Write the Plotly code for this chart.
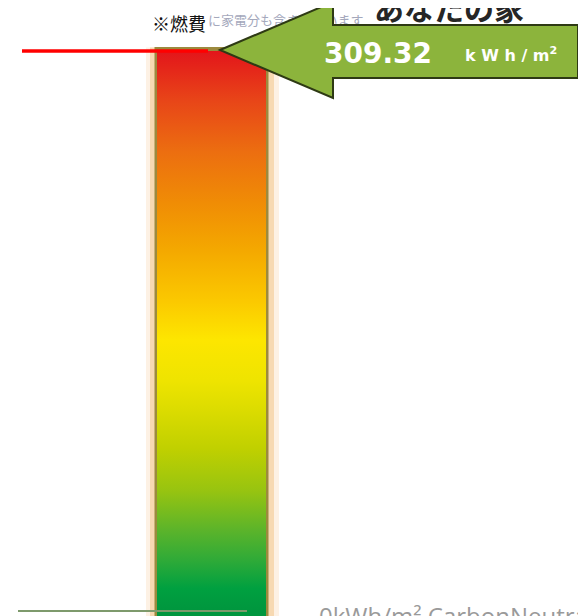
import plotly.graph_objects as go

# ---- data ----
value = [309.32]
value_text = ["309.32"]
unit_text = "k W h / m<sup>2</sup>"
bottom_label = "0kWh/m² CarbonNeutral"
heading = "あなたの家"
note_black = "※燃費"
note_grey = "に家電分も含まれています"
gradient_stops = [0.0, 0.04, 0.09, 0.145, 0.216, 0.29, 0.36, 0.41, 0.484,
                  0.555, 0.645, 0.73, 0.82, 0.91, 1.0]
gradient_colors = ["#00963e", "#00a040", "#2eaa38", "#5cb42a", "#98c410",
                   "#c0d000", "#dcdc00", "#eee400", "#fde600", "#fbc800",
                   "#f4a800", "#f08c05", "#ec6e10", "#e84618", "#e3151b"]

# page body adds an 8px margin -> figure placed at (8, 8) in the window
OFF = 8
W, H = 586 - OFF, 616 - OFF
K = 560 / value[0]           # px per unit
Y0 = 611                      # screen pixel of value 0


def vy(sy):
    return (Y0 - sy) / K


def pp(sy):
    return 1 - (sy - OFF) / H


v = value[0]
fig = go.Figure()

# glow + border behind bar
fig.add_shape(type="rect", x0=146, x1=279, y0=vy(616), y1=v + 2, xref="x", yref="y",
              fillcolor="#fdf1e4", line_width=0, layer="below")
fig.add_shape(type="rect", x0=150, x1=274, y0=vy(616), y1=v + 2, xref="x", yref="y",
              fillcolor="#f7d9b2", line_width=0, layer="below")
fig.add_shape(type="rect", x0=154.5, x1=268.5, y0=vy(616), y1=v + 2.2, xref="x", yref="y",
              fillcolor="#9c8a3e", line_width=0, layer="below")

# texts beneath the arrow
fig.add_trace(go.Scatter(
    x=[208], y=[vy(22)], mode="text", text=[note_grey], textposition="middle right",
    textfont=dict(size=13, color="#a4a8bc", family="Noto Sans CJK JP"),
    hoverinfo="skip", showlegend=False))
fig.add_trace(go.Scatter(
    x=[374], y=[vy(12)], mode="text", text=[heading], textposition="middle right",
    textfont=dict(size=30, color="#262626", family="Noto Sans CJK JP", weight="bold"),
    hoverinfo="skip", showlegend=False))

# gradient bar
bx0, bx1 = 157, 266
fig.add_trace(go.Scatter(
    x=[bx0, bx1, bx1, bx0, bx0], y=[vy(616), vy(616), v, v, vy(616)], mode="lines",
    fill="toself", line=dict(width=0, color="rgba(0,0,0,0)"),
    fillgradient=dict(type="vertical",
                      colorscale=list(zip(gradient_stops, gradient_colors)),
                      start=0, stop=v),
    hoverinfo="skip", showlegend=False))

# red value line
fig.add_trace(go.Scatter(x=[22, 208], y=[v, v], mode="lines",
                         line=dict(color="#ff0000", width=3.5),
                         hoverinfo="skip", showlegend=False))

# bottom base line
fig.add_trace(go.Scatter(x=[18, 247], y=[0, 0], mode="lines",
                         line=dict(color="#7e9a6c", width=2),
                         hoverinfo="skip", showlegend=False))

# arrow
pts = [(220, 50), (333, 2), (333, 25), (578, 25), (578, 78), (333, 78), (333, 98)]
path = "M " + " L ".join(f"{x},{pp(y)}" for x, y in pts) + " Z"
fig.add_shape(type="path", path=path, xref="x", yref="paper",
              fillcolor="#8cb43c", line=dict(color="#2e3a14", width=2), layer="above")

# texts
fig.add_annotation(x=378, y=pp(53), xref="x", yref="paper", text=f"<b>{value_text[0]}</b>",
                   xanchor="center", yanchor="middle", showarrow=False,
                   font=dict(size=28, color="white", family="DejaVu Sans"))
fig.add_annotation(x=511, y=pp(54), xref="x", yref="paper", text=f"<b>{unit_text}</b>",
                   xanchor="center", yanchor="middle", showarrow=False,
                   font=dict(size=16, color="white", family="DejaVu Sans"))
fig.add_annotation(x=150, y=pp(23), xref="x", yref="paper", text=note_black,
                   xanchor="left", yanchor="middle", showarrow=False,
                   font=dict(size=18, color="#111111", family="Noto Sans CJK JP"))
fig.add_annotation(x=317, y=pp(615), xref="x", yref="paper", text=bottom_label,
                   xanchor="left", yanchor="middle", showarrow=False,
                   font=dict(size=24, color="#9a9a9a", family="Open Sans"))

fig.update_layout(
    width=W, height=H, margin=dict(l=0, r=0, t=0, b=0),
    paper_bgcolor="white", plot_bgcolor="white", showlegend=False,
    xaxis=dict(range=[OFF, 586], visible=False, fixedrange=True),
    yaxis=dict(range=[vy(616), vy(OFF)], visible=False, fixedrange=True),
)
fig.write_html("out.html")
